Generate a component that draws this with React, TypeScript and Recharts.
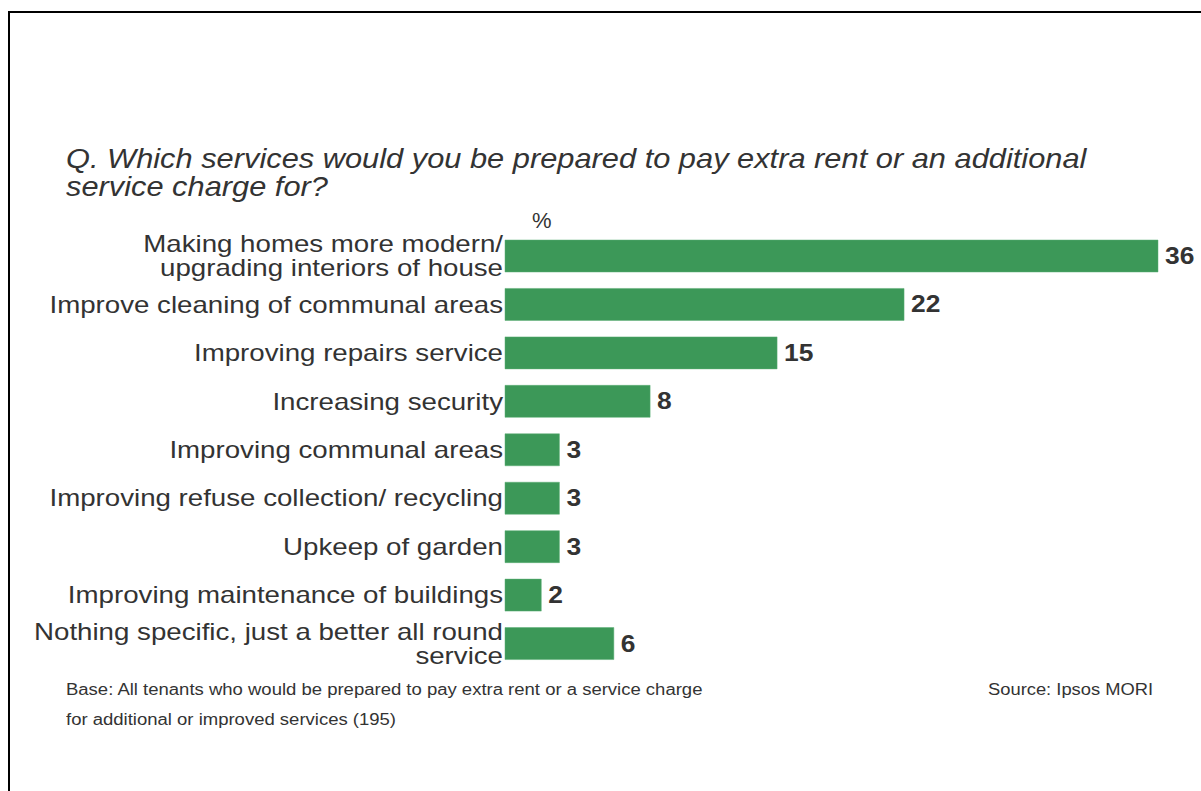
import { BarChart, Bar, XAxis, YAxis, LabelList } from 'recharts'

const categories = [
  'Making homes more modern/\nupgrading interiors of house',
  'Improve cleaning of communal areas',
  'Improving repairs service',
  'Increasing security',
  'Improving communal areas',
  'Improving refuse collection/ recycling',
  'Upkeep of garden',
  'Improving maintenance of buildings',
  'Nothing specific, just a better all round\nservice',
]
const percents = [36, 22, 15, 8, 3, 3, 3, 2, 6]

const data = categories.map((name, i) => ({ name, value: percents[i] }))

const FONT = '"Liberation Sans", Arial, sans-serif'
const TEXT = '#333333'
const GREEN = '#3c9858'

// labels in the source look slightly stretched sideways
const CategoryTick = (props: any) => {
  const { y, payload } = props
  const lines: string[] = String(payload.value).split('\n')
  const lh = 24
  const start = -((lines.length - 1) * lh) / 2
  return (
    <g transform={`translate(503,${y}) scale(1.153,1)`}>
      <text x={0} y={0} textAnchor="end" fill={TEXT} fontFamily={FONT} fontSize={24}>
        {lines.map((l, i) => (
          <tspan key={i} x={0} dy={i === 0 ? start + 8 : lh}>
            {l}
          </tspan>
        ))}
      </text>
    </g>
  )
}

const ValueLabel = (props: any) => {
  const { x, y, width, height, value } = props
  return (
    <g transform={`translate(${x + width + 7},${y + height / 2 + 8}) scale(1.1,1)`}>
      <text x={0} y={0} fill={TEXT} fontFamily={FONT} fontSize={24} fontWeight="bold">
        {value}
      </text>
    </g>
  )
}

export default function App() {
  return (
    <div style={{ position: 'absolute', left: 0, top: 0, width: 1201, height: 791, background: '#fff', overflow: 'hidden', fontFamily: FONT }}>
      <div style={{ position: 'absolute', left: 8, top: 11, width: 1201, height: 800, borderTop: '2px solid #000', borderLeft: '2px solid #000' }} />
      <div
        style={{
          position: 'absolute', left: 66, top: 145, fontSize: 28, fontStyle: 'italic', color: TEXT,
          lineHeight: '28px', whiteSpace: 'nowrap', transform: 'scaleX(1.10)', transformOrigin: 'left top',
        }}
      >
        Q. Which services would you be prepared to pay extra rent or an additional
        <br />
        service charge for?
      </div>
      <div style={{ position: 'absolute', left: 532, top: 208, fontSize: 22, color: TEXT }}>%</div>
      <div style={{ position: 'absolute', left: 0, top: 232 }}>
        <BarChart
          layout="vertical"
          width={1201}
          height={436}
          data={data}
          margin={{ top: 0, right: 43, bottom: 0, left: 0 }}
          barSize={32}
        >
          <XAxis type="number" domain={[0, 36]} hide />
          <YAxis
            type="category"
            dataKey="name"
            width={505}
            axisLine={false}
            tickLine={false}
            tick={<CategoryTick />}
            interval={0}
          />
          <Bar dataKey="value" fill={GREEN} stroke="#5aae74" strokeWidth={0.5} isAnimationActive={false}>
            <LabelList dataKey="value" content={<ValueLabel />} />
          </Bar>
        </BarChart>
      </div>
      <div
        style={{
          position: 'absolute', left: 66, top: 675, fontSize: 16, color: TEXT, lineHeight: '30px',
          whiteSpace: 'nowrap', transform: 'scaleX(1.156)', transformOrigin: 'left top',
        }}
      >
        Base: All tenants who would be prepared to pay extra rent or a service charge
        <br />
        for additional or improved services (195)
      </div>
      <div
        style={{
          position: 'absolute', left: 988, top: 675, fontSize: 16, color: TEXT, lineHeight: '30px',
          whiteSpace: 'nowrap', transform: 'scaleX(1.146)', transformOrigin: 'left top',
        }}
      >
        Source: Ipsos MORI
      </div>
    </div>
  )
}
